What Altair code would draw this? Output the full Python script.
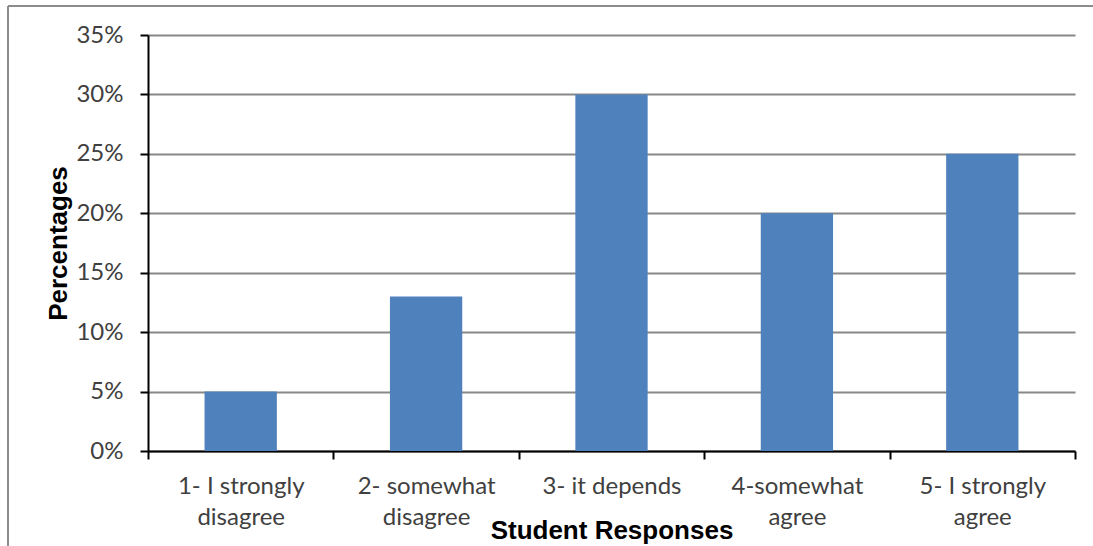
import altair as alt
import pandas as pd

categories = ["1- I strongly|disagree", "2- somewhat|disagree", "3- it depends",
              "4-somewhat|agree", "5- I strongly|agree"]
percentages = [0.05, 0.13, 0.30, 0.20, 0.25]

df = pd.DataFrame({"response": categories, "pct": percentages})

W, H = 927, 416
LABEL_FONT = "Lato"
TITLE_FONT = "Liberation Sans"

bars = alt.Chart(df).mark_bar(
    color="#4F81BD", width=alt.RelativeBandSize(0.39)
).encode(
    x=alt.X("response:N", sort=categories,
            scale=alt.Scale(paddingInner=0, paddingOuter=0),
            axis=alt.Axis(
                title="Student Responses", labelAngle=0, tickBand="extent",
                labelExpr="split(datum.label, '|')",
                labelFont=LABEL_FONT, labelFontSize=24, labelColor="#404040",
                labelPadding=15, labelLineHeight=31, labelBaseline="top",
                domainColor="#000000", domainWidth=2,
                tickColor="#000000", tickWidth=2, tickSize=8,
                titleFont=TITLE_FONT, titleFontSize=26, titleFontWeight="bold",
                titleColor="#000000", titleY=87, titleBaseline="alphabetic",
                grid=False)),
    y=alt.Y("pct:Q", scale=alt.Scale(domain=[0, 0.35], nice=False),
            axis=alt.Axis(
                title="Percentages", format=".0%", values=[0, 0.05, 0.1, 0.15, 0.2, 0.25, 0.3, 0.35],
                labelFont=LABEL_FONT, labelFontSize=24, labelColor="#404040",
                labelPadding=17,
                domainColor="#000000", domainWidth=2,
                tickColor="#000000", tickWidth=2, tickSize=8,
                gridColor="#888888", gridWidth=2,
                titleFont=TITLE_FONT, titleFontSize=26, titleFontWeight="bold",
                titleColor="#000000", titleX=-82, titleY=H / 2,
                titleBaseline="alphabetic", titleAngle=-90)),
)

border_top = alt.Chart(df).mark_rule(color="#8c8c8c", strokeWidth=2).encode(
    x=alt.value(-140), x2=alt.value(960), y=alt.value(-29))
border_left = alt.Chart(df).mark_rule(color="#8c8c8c", strokeWidth=2).encode(
    x=alt.value(-140), y=alt.value(-29), y2=alt.value(520))

chart = alt.layer(bars, border_top, border_left).properties(
    width=W, height=H,
    autosize=alt.AutoSizeParams(type="none"),
    padding={"left": 148, "top": 35, "right": 18, "bottom": 95},
    background="white",
).configure_view(stroke=None)

chart.save("out.html", embed_options={"renderer": "svg", "actions": False})
